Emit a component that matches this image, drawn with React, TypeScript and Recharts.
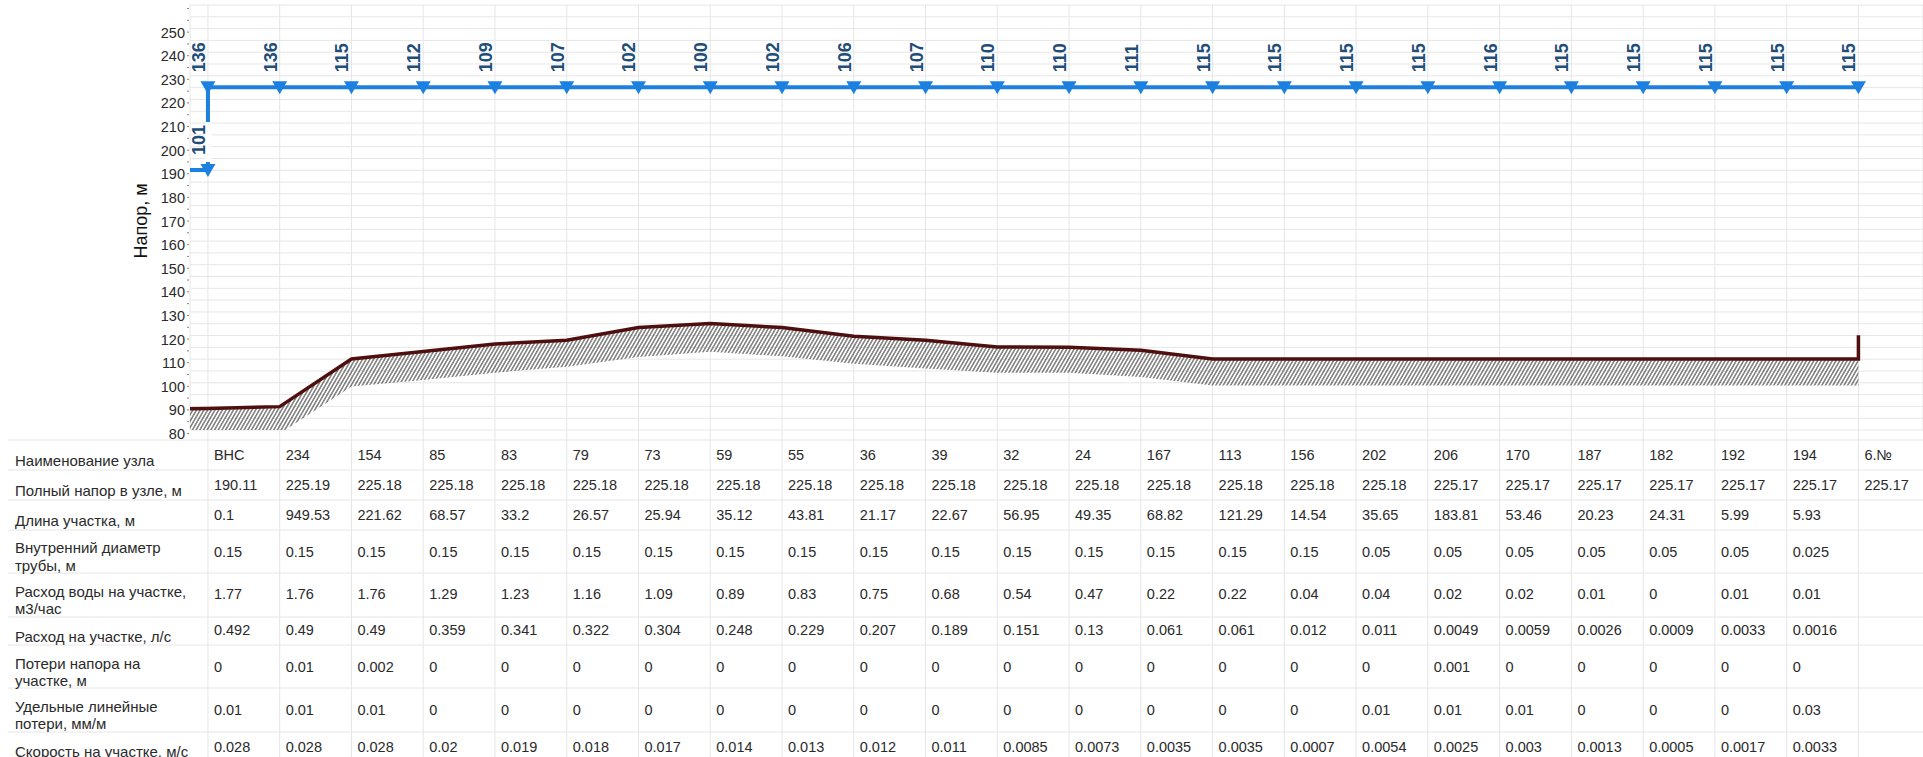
import React from "react";
import {
  Area,
  CartesianGrid,
  ComposedChart,
  Line,
  XAxis,
  YAxis,
} from "recharts";

// node names along the pipeline (table header row)
const nodeNames = [
  "ВНС", "234", "154", "85", "83", "79", "73", "59", "55", "36", "39", "32",
  "24", "167", "113", "156", "202", "206", "170", "187", "182", "192", "194", "6.№",
];

// full head at node, m
const fullHead = [
  190.11, 225.19, 225.18, 225.18, 225.18, 225.18, 225.18, 225.18, 225.18, 225.18,
  225.18, 225.18, 225.18, 225.18, 225.18, 225.18, 225.18, 225.17, 225.17, 225.17,
  225.17, 225.17, 225.17, 225.17,
];

// free head labels above the piezometric line
const freeHead = [
  136, 136, 115, 112, 109, 107, 102, 100, 102, 106, 107, 110, 110, 111, 115, 115,
  115, 115, 116, 115, 115, 115, 115, 115,
];
const pumpFreeHead = 101;

// ground profile (top of the hatched band) and its lower edge, m
const groundStart = 89.0;
const groundLevel = [
  89.1, 89.9, 110.1, 113.2, 116.4, 118.0, 123.4, 125.1, 123.4, 119.7, 118.0, 115.2,
  115.0, 113.8, 110.1, 110.1, 110.1, 110.1, 110.1, 110.1, 110.1, 110.1, 110.1, 110.1,
];
const groundRiserTop = 120.1;
const hatchBottomStart = 78.5;
const hatchBottom = [
  78.5, 78.5, 98.4, 101.2, 104.3, 106.8, 110.9, 113.1, 111.2, 108.1, 106.0, 104.2,
  104.2, 102.5, 98.9, 98.9, 98.9, 98.9, 98.9, 98.9, 98.9, 98.9, 98.9, 98.9,
];

// per-segment table rows
const segLength = [
  0.1, 949.53, 221.62, 68.57, 33.2, 26.57, 25.94, 35.12, 43.81, 21.17, 22.67, 56.95,
  49.35, 68.82, 121.29, 14.54, 35.65, 183.81, 53.46, 20.23, 24.31, 5.99, 5.93,
];
const innerDiam = [
  0.15, 0.15, 0.15, 0.15, 0.15, 0.15, 0.15, 0.15, 0.15, 0.15, 0.15, 0.15, 0.15, 0.15,
  0.15, 0.15, 0.05, 0.05, 0.05, 0.05, 0.05, 0.05, 0.025,
];
const flowM3h = [
  1.77, 1.76, 1.76, 1.29, 1.23, 1.16, 1.09, 0.89, 0.83, 0.75, 0.68, 0.54, 0.47, 0.22,
  0.22, 0.04, 0.04, 0.02, 0.02, 0.01, 0, 0.01, 0.01,
];
const flowLs = [
  0.492, 0.49, 0.49, 0.359, 0.341, 0.322, 0.304, 0.248, 0.229, 0.207, 0.189, 0.151,
  0.13, 0.061, 0.061, 0.012, 0.011, 0.0049, 0.0059, 0.0026, 0.0009, 0.0033, 0.0016,
];
const headLoss = [
  0, 0.01, 0.002, 0, 0, 0, 0, 0, 0, 0, 0, 0, 0, 0, 0, 0, 0, 0.001, 0, 0, 0, 0, 0,
];
const specificLoss = [
  0.01, 0.01, 0.01, 0, 0, 0, 0, 0, 0, 0, 0, 0, 0, 0, 0, 0, 0.01, 0.01, 0.01, 0, 0, 0,
  0.03,
];
const velocity = [
  0.028, 0.028, 0.028, 0.02, 0.019, 0.018, 0.017, 0.014, 0.013, 0.012, 0.011, 0.0085,
  0.0073, 0.0035, 0.0035, 0.0007, 0.0054, 0.0025, 0.003, 0.0013, 0.0005, 0.0017,
  0.0033,
];

const rowLabels = [
  ["Наименование узла"],
  ["Полный напор в узле, м"],
  ["Длина участка, м"],
  ["Внутренний диаметр", "трубы, м"],
  ["Расход воды на участке,", "м3/час"],
  ["Расход на участке, л/с"],
  ["Потери напора на", "участке, м"],
  ["Удельные линейные", "потери, мм/м"],
  ["Скорость на участке, м/с"],
];

const yTicks = [
  80, 85, 90, 95, 100, 105, 110, 115, 120, 125, 130, 135, 140, 145, 150, 155, 160,
  165, 170, 175, 180, 185, 190, 195, 200, 205, 210, 215, 220, 225, 230, 235, 240,
  245, 250, 255, 260,
];
const yLabels = [
  80, 90, 100, 110, 120, 130, 140, 150, 160, 170, 180, 190, 200, 210, 220, 230, 240, 250,
];
const xTicks = nodeNames.map((_, i) => i);

const X_MIN = -0.25;
const X_MAX = 23.9;
const last = nodeNames.length - 1;

const headData = [
  { x: X_MIN, head: fullHead[0] },
  { x: 0, head: fullHead[0], free: pumpFreeHead },
  ...nodeNames.map((_, i) => ({
    x: i,
    head: i === 0 ? fullHead[1] : fullHead[i],
    free: freeHead[i],
  })),
];

const groundData = [
  { x: X_MIN, ground: groundStart },
  ...groundLevel.map((g, i) => ({ x: i, ground: g })),
  { x: last, ground: groundRiserTop },
];

const bandData = [
  { x: X_MIN, band: [hatchBottomStart, groundStart] },
  ...groundLevel.map((g, i) => ({ x: i, band: [hatchBottom[i], g] })),
];

const FONT = "'Liberation Sans', Arial, sans-serif";
const BLUE = "#1c80e0";
const LABEL_BLUE = "#1f4e79";
const GRID = "#e6e6e6";
const TEXT = "#2a2a2a";

const ROW_LINES = [440, 470, 500, 530, 573, 617, 645, 688, 732];
const ROW_CENTERS = [455, 485, 515, 551.5, 594, 630, 666.5, 710, 746.5];
const LABEL_Y = [[460], [490], [520], [547, 565], [591, 608], [636], [663, 680], [706, 723], [751]];

function RowHeaders() {
  return (
    <g>
      {ROW_LINES.map((y) => (
        <line key={y} x1={8} x2={1923} y1={y} y2={y} stroke={GRID} strokeWidth={1} />
      ))}
      <g clipPath="url(#rowLabelClip)">
        {rowLabels.map((lines, r) =>
          lines.map((t, k) => (
            <text
              key={r + "-" + k}
              x={15}
              y={LABEL_Y[r][k]}
              dominantBaseline="central"
              fontFamily={FONT}
              fontSize={15}
              fill={TEXT}
            >
              {t}
            </text>
          ))
        )}
      </g>
    </g>
  );
}

function TableColumn(props: any) {
  const { x, payload } = props;
  const i = payload.value as number;
  const cells = [
    nodeNames[i],
    fullHead[i],
    segLength[i],
    innerDiam[i],
    flowM3h[i],
    flowLs[i],
    headLoss[i],
    specificLoss[i],
    velocity[i],
  ];
  return (
    <g>
      {i === 0 && <RowHeaders />}
      <line x1={x} x2={x} y1={430} y2={757} stroke={GRID} strokeWidth={1} />
      {cells.map((c, r) =>
        c === undefined ? null : (
          <text
            key={r}
            x={x + 6}
            y={ROW_CENTERS[r]}
            dominantBaseline="central"
            fontFamily={FONT}
            fontSize={14.5}
            fill={TEXT}
          >
            {c}
          </text>
        )
      )}
    </g>
  );
}

function HeadTick(props: any) {
  const { y, payload } = props;
  const v = payload.value as number;
  return (
    <g>
      <line x1={187} x2={189} y1={y + 3.5} y2={y + 3.5} stroke="#888" strokeWidth={1} />
      {yLabels.includes(v) && (
        <text
          x={185}
          y={y + 4}
          textAnchor="end"
          dominantBaseline="central"
          fontFamily={FONT}
          fontSize={14.5}
          fill={TEXT}
        >
          {v}
        </text>
      )}
    </g>
  );
}

function AxisTitle() {
  return (
    <text
      x={147}
      y={221}
      transform="rotate(-90 147 221)"
      textAnchor="middle"
      fontFamily={FONT}
      fontSize={18}
      fill="#111"
    >
      Напор, м
    </text>
  );
}

function HeadMarker(props: any) {
  const { cx, cy, index, payload } = props;
  if (index === 0 || cx == null || cy == null) return <g key={"m" + index} />;
  return (
    <g key={"m" + index}>
      {index === 1 && (
        <rect x={cx - 3.5} y={cy - 48} width={7} height={40} fill="#fff" />
      )}
      <polygon
        points={`${cx - 7.5},${cy - 6} ${cx + 7.5},${cy - 6} ${cx},${cy + 7}`}
        fill={BLUE}
      />
      <text
        x={cx - 3}
        y={cy - 15}
        transform={`rotate(-90 ${cx - 3} ${cy - 15})`}
        fontFamily={FONT}
        fontWeight="bold"
        fontSize={18}
        fill={LABEL_BLUE}
      >
        {payload.free}
      </text>
    </g>
  );
}

export default function App() {
  return (
    <div style={{ position: "absolute", left: 0, top: 0, background: "#fff" }}>
      <ComposedChart
        width={1923}
        height={757}
        margin={{ top: 5, right: 0, bottom: 0, left: 0 }}
      >
        <defs>
          <pattern
            id="hatch"
            patternUnits="userSpaceOnUse"
            width={3.2}
            height={8}
            patternTransform="rotate(30)"
          >
            <line x1={0.8} y1={0} x2={0.8} y2={8} stroke="#3a3a3a" strokeWidth={1} />
          </pattern>
          <clipPath id="rowLabelClip">
            <rect x={0} y={430} width={189} height={327} />
          </clipPath>
        </defs>
        <CartesianGrid stroke={GRID} strokeWidth={1} />
        <XAxis
          dataKey="x"
          type="number"
          domain={[X_MIN, X_MAX]}
          allowDataOverflow
          ticks={xTicks}
          interval={0}
          height={327}
          axisLine={false}
          tickLine={false}
          tickSize={0}
          tickMargin={0}
          tick={<TableColumn />}
        />
        <YAxis
          type="number"
          domain={[80, 260]}
          allowDataOverflow
          ticks={yTicks}
          interval={0}
          width={190}
          axisLine={false}
          tickLine={false}
          tick={<HeadTick />}
          label={<AxisTitle />}
        />
        <Area
          data={bandData}
          dataKey="band"
          type="linear"
          stroke="none"
          fill="url(#hatch)"
          fillOpacity={1}
          isAnimationActive={false}
        />
        <Line
          data={groundData}
          dataKey="ground"
          type="linear"
          stroke="#4f0f0f"
          strokeWidth={3.5}
          dot={false}
          activeDot={false}
          isAnimationActive={false}
        />
        <Line
          data={headData}
          dataKey="head"
          type="linear"
          stroke={BLUE}
          strokeWidth={4}
          dot={(p: any) => <HeadMarker {...p} />}
          activeDot={false}
          isAnimationActive={false}
        />
      </ComposedChart>
    </div>
  );
}
